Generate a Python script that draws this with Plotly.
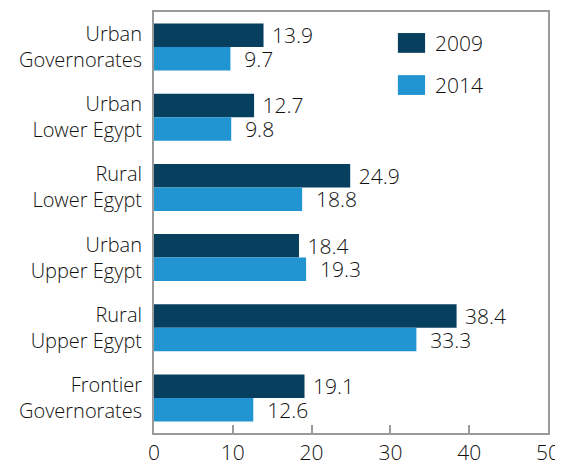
import plotly.graph_objects as go

categories = ["Urban<br>Governorates", "Urban<br>Lower Egypt", "Rural<br>Lower Egypt",
              "Urban<br>Upper Egypt", "Rural<br>Upper Egypt", "Frontier<br>Governorates"]
values_2009 = [13.9, 12.7, 24.9, 18.4, 38.4, 19.1]
values_2014 = [9.7, 9.8, 18.8, 19.3, 33.3, 12.6]
series_names = ["2009", "2014"]
tick_vals = [0, 10, 20, 30, 40, 50]

DARK = "#073F5F"
LIGHT = "#2195D2"
FONT = "Open Sans"
FS = 21
FS_CAT = 20
W = 300
TXT = "#111111"

fig = go.Figure()
fig.add_trace(go.Bar(
    y=categories, x=values_2009, orientation="h", name=series_names[0],
    marker=dict(color=DARK, line=dict(width=0)),
    text=values_2009, texttemplate="\u00a0%{x}", textposition="outside",
    constraintext="none",
    textfont=dict(family=FONT, size=FS, color=TXT, weight=W), cliponaxis=False,
))
fig.add_trace(go.Bar(
    y=categories, x=values_2014, orientation="h", name=series_names[1],
    marker=dict(color=LIGHT, line=dict(width=0)),
    text=values_2014, texttemplate="\u00a0\u00a0%{x}", textposition="outside",
    constraintext="none",
    textfont=dict(family=FONT, size=FS, color=TXT, weight=W), cliponaxis=False,
))

# legend drawn as swatches + labels
legend_items = [(series_names[0], DARK, 0.950, 0.903), (series_names[1], LIGHT, 0.850, 0.803)]
for name, col, y1, y0 in legend_items:
    fig.add_shape(type="rect", xref="paper", yref="paper", x0=0.619, x1=0.688,
                  y0=y0, y1=y1, fillcolor=col, line=dict(width=0))
    fig.add_annotation(xref="paper", yref="paper", x=0.708, y=(y0 + y1) / 2,
                       text=name, showarrow=False, xanchor="left", yanchor="middle",
                       font=dict(family=FONT, size=FS, color=TXT, weight=W))

fig.update_layout(
    width=555, height=458,
    margin=dict(l=146, r=15, t=4, b=33, autoexpand=False),
    barmode="group", bargap=0.33, bargroupgap=0,
    showlegend=False,
    plot_bgcolor="white", paper_bgcolor="white",
    font=dict(family=FONT, size=FS, color=TXT, weight=W),
)
fig.update_xaxes(
    range=[0, 50], tickvals=tick_vals, ticks="inside", ticklen=8, tickwidth=2,
    tickcolor="#9a9a9a", showgrid=False, zeroline=False, automargin=False,
    showline=True, linecolor="#9a9a9a", linewidth=2, mirror=True,
    tickfont=dict(family=FONT, size=FS, color=TXT, weight=W),
)
fig.update_yaxes(
    autorange="reversed", ticks="", showgrid=False, automargin=False,
    showline=True, linecolor="#9a9a9a", linewidth=2, mirror=True,
    tickfont=dict(family=FONT, size=FS_CAT, color=TXT, weight=W), ticklabelstandoff=6,
)

fig.write_html("out.html")
